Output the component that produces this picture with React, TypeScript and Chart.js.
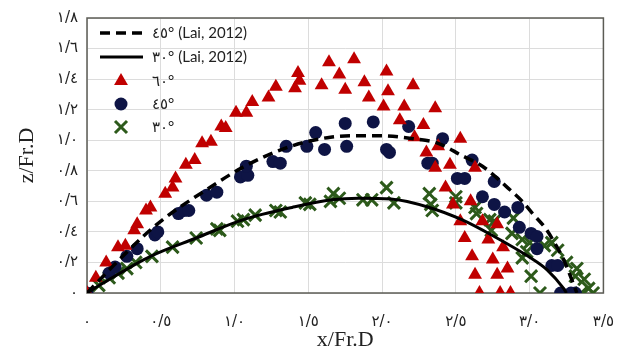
import React, { useEffect, useRef } from 'react';
import { Chart, registerables } from 'chart.js';

Chart.register(...registerables);

// Tick labels (Arabic-Indic digits, "/" as decimal separator)
const xTickLabels = ['٠', '٠/٥', '١/٠', '١/٥', '٢/٠', '٢/٥', '٣/٠', '٣/٥'];
const yTickLabels = ['٠', '٠/٢', '٠/٤', '٠/٦', '٠/٨', '١/٠', '١/٢', '١/٤', '١/٦', '١/٨'];

const seriesLabels = ['٤٥° (Lai, 2012)', '٣٠° (Lai, 2012)', '٦٠°', '٤٥°', '٣٠°'];

// Lai (2012) 45° curve
const lai45X = [0, 0.17, 0.38, 0.54, 0.8, 1.07, 1.38, 1.65, 1.83, 1.98, 2.21, 2.38, 2.54, 2.68, 2.85, 2.95, 3.02, 3.11, 3.18, 3.23, 3.32];
const lai45Y = [0, 0.17, 0.37, 0.5, 0.67, 0.83, 0.96, 1.02, 1.03, 1.03, 1.01, 0.98, 0.9, 0.83, 0.69, 0.6, 0.52, 0.42, 0.31, 0.22, 0];

// Lai (2012) 30° curve
const lai30X = [0, 0.11, 0.43, 0.74, 1.06, 1.39, 1.66, 1.84, 2.06, 2.32, 2.54, 2.76, 2.99, 3.12, 3.23, 3.25];
const lai30Y = [0, 0.065, 0.24, 0.36, 0.48, 0.56, 0.61, 0.62, 0.615, 0.56, 0.48, 0.37, 0.24, 0.15, 0.03, 0];

// Experimental 60°
const exp60X = [0, 0.06, 0.13, 0.21, 0.26, 0.32, 0.34, 0.4, 0.43, 0.53, 0.58, 0.6, 0.67, 0.73, 0.78, 0.84, 0.91, 0.94, 1.01, 1.08, 1.12, 1.23, 1.28, 1.41, 1.43, 1.44, 1.59, 1.64, 1.71, 1.75, 1.81, 1.88, 1.91, 2.01, 2.03, 2.04, 2.12, 2.15, 2.21, 2.22, 2.28, 2.3, 2.36, 2.36, 2.38, 2.43, 2.46, 2.48, 2.53, 2.53, 2.56, 2.6, 2.61, 2.63, 2.63, 2.66, 2.68, 2.72, 2.75, 2.78, 2.78, 2.8, 2.82, 2.85, 2.87];
const exp60Y = [0, 0.1, 0.2, 0.3, 0.31, 0.41, 0.45, 0.54, 0.56, 0.65, 0.69, 0.75, 0.84, 0.87, 0.98, 0.99, 1.09, 1.08, 1.18, 1.18, 1.25, 1.28, 1.35, 1.34, 1.44, 1.39, 1.36, 1.51, 1.43, 1.33, 1.53, 1.38, 1.28, 1.22, 1.45, 1.32, 1.13, 1.22, 1.36, 1.02, 1.1, 0.92, 1.21, 0.82, 0.96, 0.69, 0.84, 0.58, 1.01, 0.47, 0.36, 0.6, 0.24, 0.82, 0.12, 0, 0.47, 0.35, 0.22, 0.45, 0.12, 0, 0.3, 0.16, 0];

// Experimental 45°
const exp45X = [0, 0.15, 0.19, 0.27, 0.34, 0.46, 0.48, 0.62, 0.66, 0.69, 0.81, 0.88, 1.04, 1.09, 1.08, 1.26, 1.31, 1.35, 1.49, 1.55, 1.61, 1.75, 1.76, 1.94, 2.03, 2.05, 2.18, 2.41, 2.31, 2.34, 2.61, 2.51, 2.56, 2.76, 2.68, 2.76, 2.83, 2.92, 2.93, 3.01, 3.05, 3.05, 3.15, 3.19, 3.21, 3.28, 3.31];
const exp45Y = [0, 0.13, 0.17, 0.24, 0.29, 0.38, 0.4, 0.52, 0.54, 0.54, 0.64, 0.66, 0.76, 0.77, 0.83, 0.86, 0.85, 0.96, 0.96, 1.05, 0.94, 1.11, 0.96, 1.12, 0.94, 0.92, 1.09, 1.01, 0.85, 0.85, 0.87, 0.75, 0.75, 0.73, 0.63, 0.58, 0.53, 0.56, 0.43, 0.39, 0.37, 0.29, 0.18, 0.18, 0, 0, 0];

// Experimental 30°
const exp30X = [0, 0.08, 0.15, 0.21, 0.27, 0.33, 0.44, 0.58, 0.74, 0.88, 0.9, 1.02, 1.06, 1.14, 1.28, 1.31, 1.48, 1.51, 1.65, 1.67, 1.71, 1.87, 1.93, 2.03, 2.08, 2.32, 2.33, 2.34, 2.5, 2.5, 2.63, 2.64, 2.73, 2.76, 2.74, 2.88, 2.89, 2.95, 2.95, 2.98, 3.0, 3.01, 3.07, 3.1, 3.15, 3.19, 3.25, 3.32, 3.31, 3.37, 3.4, 3.43, 3.35];
const exp30Y = [0, 0.05, 0.1, 0.13, 0.16, 0.2, 0.24, 0.3, 0.36, 0.42, 0.41, 0.47, 0.48, 0.51, 0.54, 0.53, 0.59, 0.58, 0.6, 0.65, 0.62, 0.61, 0.61, 0.69, 0.59, 0.65, 0.58, 0.54, 0.63, 0.59, 0.56, 0.52, 0.48, 0.47, 0.41, 0.39, 0.49, 0.35, 0.23, 0.27, 0.33, 0.11, 0, 0.31, 0.33, 0.28, 0.2, 0.16, 0.11, 0.09, 0.03, 0, 0];

const zip = (xs: number[], ys: number[]) => xs.map((x, i) => ({ x, y: ys[i] }));

const RED = '#C00000';
const NAVY = '#0E1445';
const GREEN = '#2D5A1B';

const frameBorder = {
  id: 'frameBorder',
  beforeDatasetsDraw(chart: any) {
    const { ctx, chartArea } = chart;
    ctx.save();
    ctx.strokeStyle = '#5c5c55';
    ctx.lineWidth = 1.5;
    ctx.strokeRect(chartArea.left, chartArea.top, chartArea.right - chartArea.left, chartArea.bottom - chartArea.top);
    ctx.restore();
  },
};

const insideLegend = {
  id: 'insideLegend',
  afterDraw(chart: any) {
    const ctx = chart.ctx;
    const rows = [33, 57, 81, 104, 127];
    ctx.save();
    chart.data.datasets.forEach((ds: any, i: number) => {
      const y = rows[i];
      const cx = 121;
      if (ds.showLine) {
        ctx.beginPath();
        ctx.setLineDash(ds.borderDash || []);
        ctx.lineWidth = ds.borderWidth;
        ctx.strokeStyle = ds.borderColor;
        ctx.moveTo(100, y);
        ctx.lineTo(143, y);
        ctx.stroke();
        ctx.setLineDash([]);
      } else if (ds.pointStyle === 'triangle') {
        const r = ds.pointRadius;
        ctx.beginPath();
        ctx.fillStyle = ds.backgroundColor;
        ctx.moveTo(cx, y - r);
        ctx.lineTo(cx + r * 0.866, y + r * 0.5);
        ctx.lineTo(cx - r * 0.866, y + r * 0.5);
        ctx.closePath();
        ctx.fill();
      } else if (ds.pointStyle === 'circle') {
        ctx.beginPath();
        ctx.fillStyle = ds.backgroundColor;
        ctx.arc(cx, y, ds.pointRadius, 0, Math.PI * 2);
        ctx.fill();
      } else {
        const o = ds.pointRadius * 0.7071;
        ctx.beginPath();
        ctx.strokeStyle = ds.borderColor;
        ctx.lineWidth = ds.borderWidth;
        ctx.moveTo(cx - o, y - o);
        ctx.lineTo(cx + o, y + o);
        ctx.moveTo(cx - o, y + o);
        ctx.lineTo(cx + o, y - o);
        ctx.stroke();
      }
      ctx.fillStyle = '#222';
      ctx.font = '15px Lato, "DejaVu Sans", sans-serif';
      ctx.textBaseline = 'middle';
      ctx.textAlign = 'left';
      ctx.fillText(ds.label, 152, y);
    });
    ctx.restore();
  },
};

export default function App() {
  const ref = useRef<HTMLCanvasElement>(null);

  useEffect(() => {
    if (!ref.current) return;
    const chart = new Chart(ref.current, {
      type: 'scatter',
      data: {
        datasets: [
          {
            label: seriesLabels[0],
            data: zip(lai45X, lai45Y),
            showLine: true,
            borderColor: '#000',
            borderWidth: 3.5,
            borderDash: [10, 6],
            pointRadius: 0,
            cubicInterpolationMode: 'monotone',
          } as any,
          {
            label: seriesLabels[1],
            data: zip(lai30X, lai30Y),
            showLine: true,
            borderColor: '#000',
            borderWidth: 3,
            pointRadius: 0,
            cubicInterpolationMode: 'monotone',
          } as any,
          {
            label: seriesLabels[2],
            data: zip(exp60X, exp60Y),
            pointStyle: 'triangle',
            pointRadius: 8,
            backgroundColor: RED,
            borderColor: RED,
            borderWidth: 0,
          } as any,
          {
            label: seriesLabels[3],
            data: zip(exp45X, exp45Y),
            pointStyle: 'circle',
            pointRadius: 6.5,
            backgroundColor: NAVY,
            borderColor: NAVY,
            borderWidth: 0,
          } as any,
          {
            label: seriesLabels[4],
            data: zip(exp30X, exp30Y),
            pointStyle: 'crossRot',
            pointRadius: 8.5,
            backgroundColor: GREEN,
            borderColor: GREEN,
            borderWidth: 3,
          } as any,
        ],
      },
      options: {
        responsive: false,
        animation: false,
        layout: { padding: { left: 0, right: 24, top: 18, bottom: 0 } },
        plugins: {
          legend: { display: false },
          tooltip: { enabled: false },
        },
        scales: {
          x: {
            type: 'linear',
            min: 0,
            max: 3.5,
            border: { display: false },
            grid: { color: '#dcdcdc', lineWidth: 1, drawTicks: false },
            ticks: {
              stepSize: 0.5,
              padding: 20,
              color: '#222',
              font: { family: '"DejaVu Sans"', size: 15 },
              callback: (v: any) => xTickLabels[Math.round(Number(v) * 2)] ?? '',
            },
            title: {
              display: true,
              text: 'x/Fr.D',
              color: '#222',
              font: { family: '"Liberation Serif"', size: 22 },
              padding: { top: 0, bottom: 5 },
            },
            afterFit: (s: any) => { s.height = 65; },
          },
          y: {
            type: 'linear',
            min: 0,
            max: 1.8,
            border: { display: false },
            grid: { color: '#dcdcdc', lineWidth: 1, drawTicks: false },
            ticks: {
              stepSize: 0.2,
              padding: 9,
              color: '#222',
              font: { family: '"DejaVu Sans"', size: 15 },
              callback: (v: any) => yTickLabels[Math.round(Number(v) * 5)] ?? '',
            },
            title: {
              display: true,
              text: 'z/Fr.D',
              color: '#222',
              font: { family: '"Liberation Serif"', size: 22 },
              padding: { top: 14, bottom: 0 },
            },
            afterFit: (s: any) => { s.width = 87; },
          },
        },
      } as any,
      plugins: [frameBorder, insideLegend],
    });
    return () => chart.destroy();
  }, []);

  return (
    <div style={{ position: 'absolute', left: 0, top: 0, width: 634, height: 358, background: '#fff' }}>
      <canvas ref={ref} width={634} height={358} style={{ width: 634, height: 358, display: 'block' }} />
    </div>
  );
}
